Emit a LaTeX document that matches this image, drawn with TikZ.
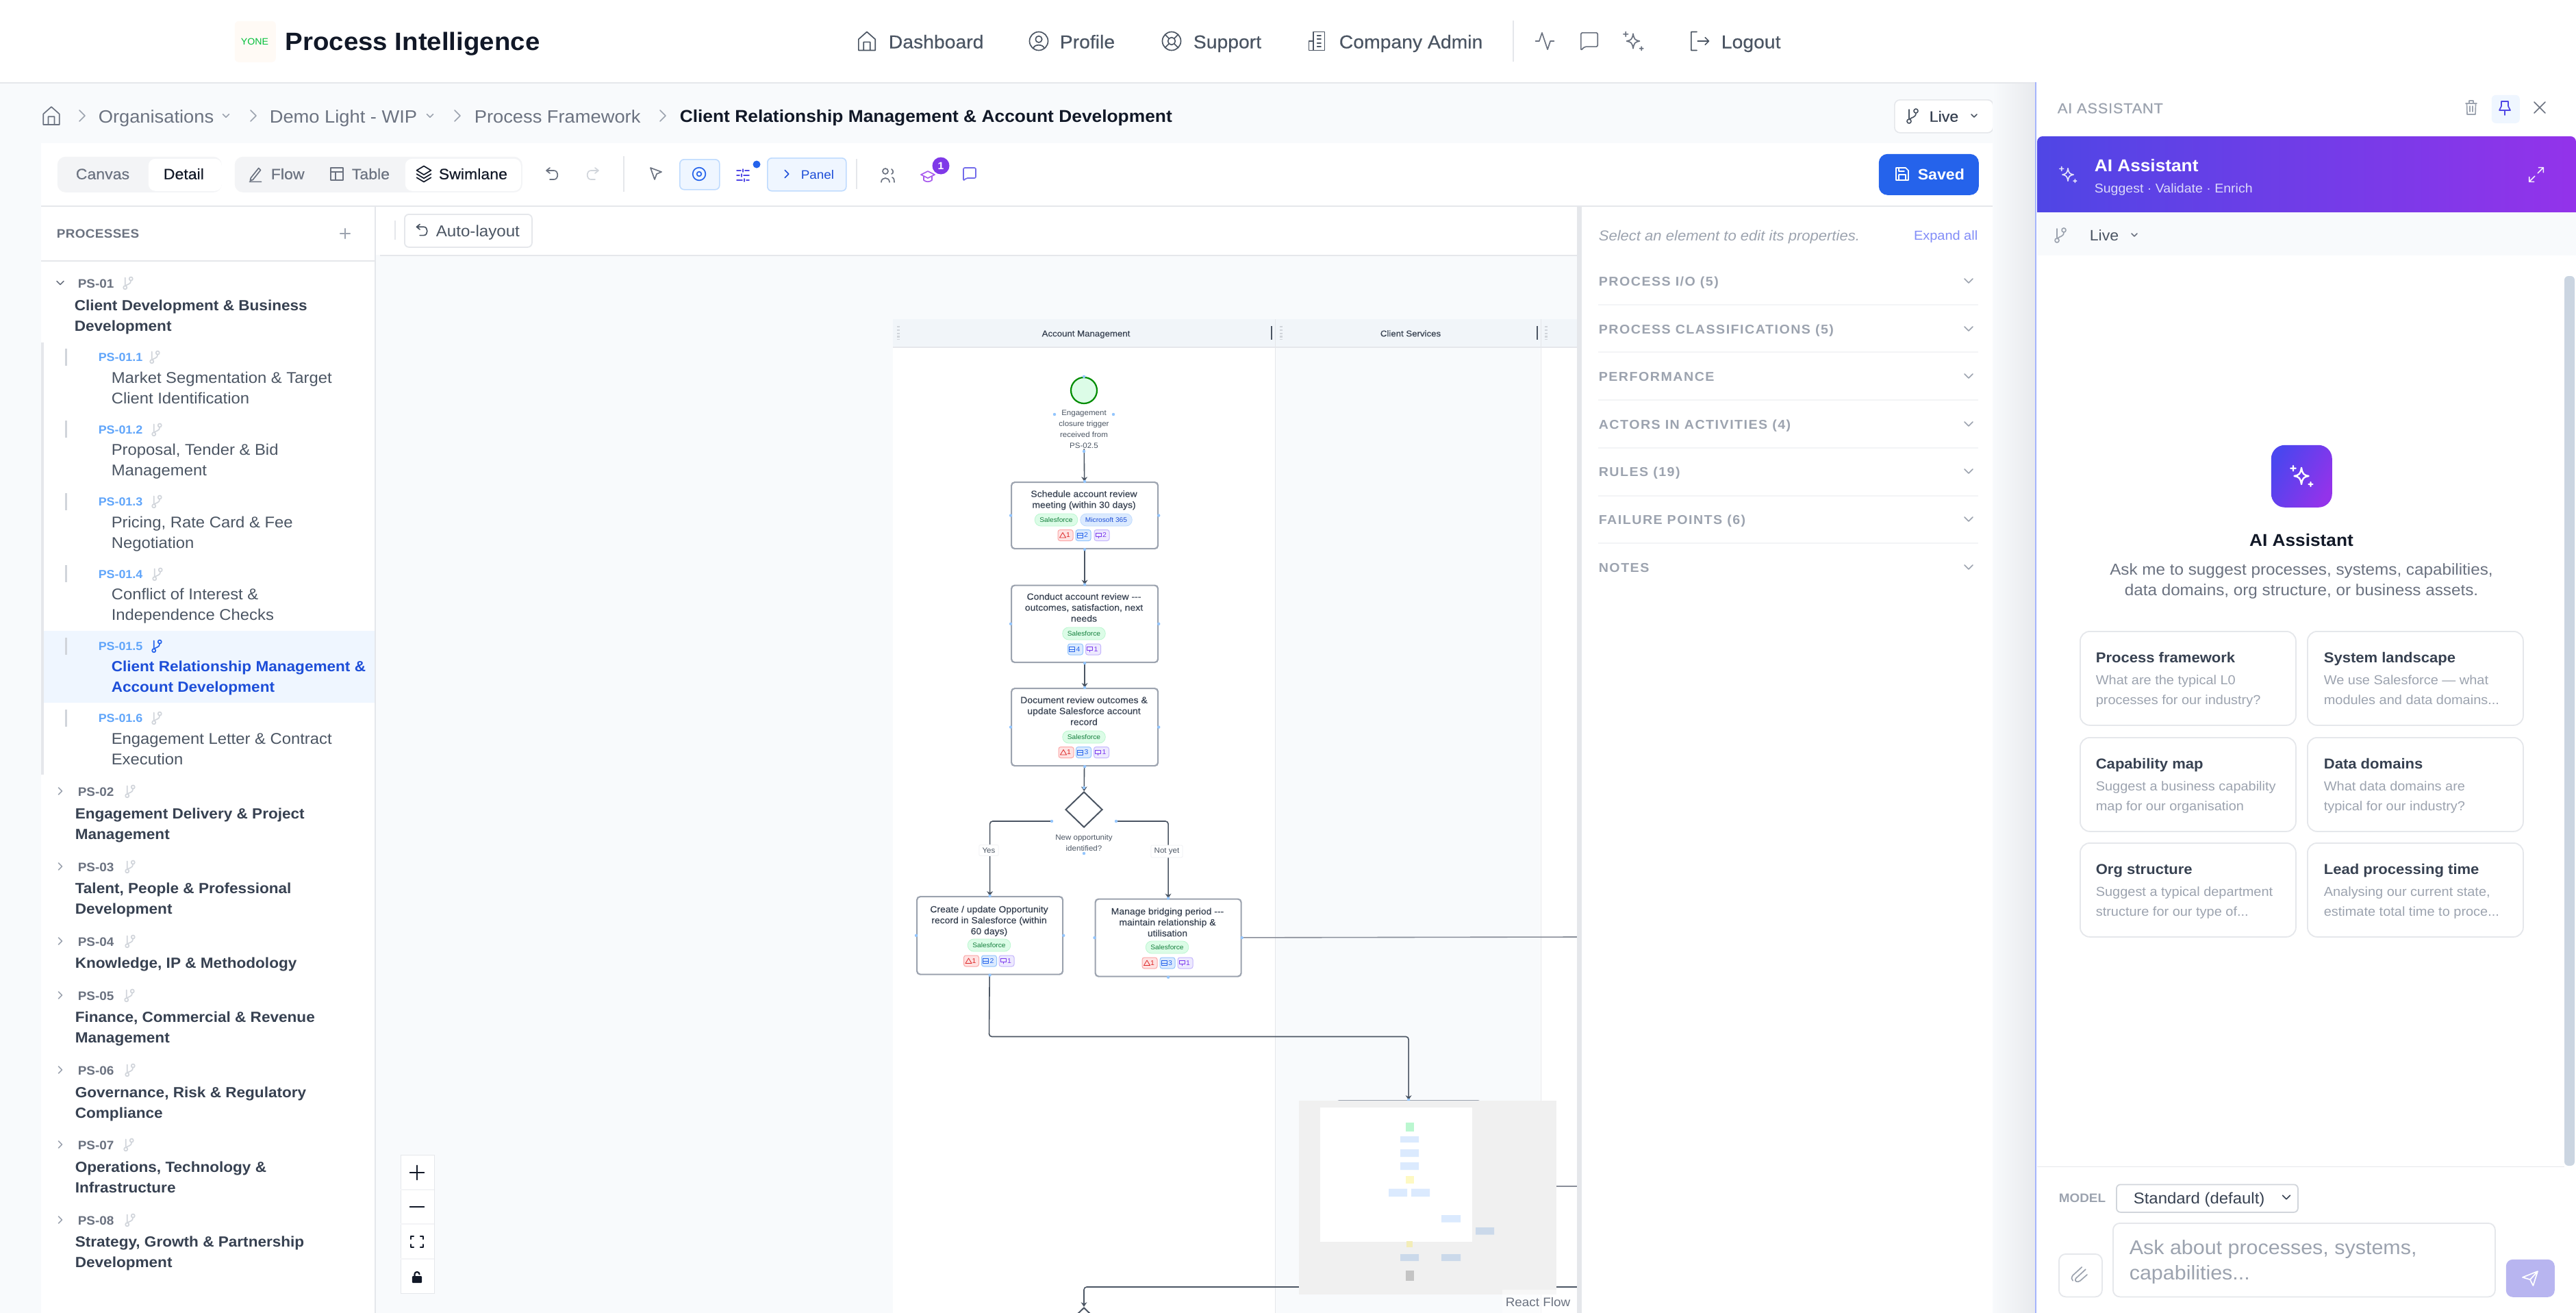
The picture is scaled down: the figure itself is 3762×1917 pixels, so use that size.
\documentclass[tikz,border=0pt]{standalone}
\usepackage{fontspec}
\setmainfont{Liberation Sans}[FakeStretch=1.05]
\newfontfamily\mediumf{Liberation Sans}[FakeStretch=1.05,FakeBold=.3]
\usetikzlibrary{arrows.meta, shapes.geometric}
\definecolor{pagebg}{HTML}{F8FAFC}
\definecolor{rule}{HTML}{E5E7EB}
\definecolor{ink}{HTML}{111827}
\definecolor{inkb}{HTML}{374151}
\definecolor{inkc}{HTML}{4B5563}
\definecolor{inkd}{HTML}{6B7280}
\definecolor{inke}{HTML}{9CA3AF}
\definecolor{inkf}{HTML}{D1D5DB}
\definecolor{tabbg}{HTML}{F3F4F6}
\definecolor{selbg}{HTML}{EFF6FF}
\definecolor{selline}{HTML}{BFDBFE}
\definecolor{selink}{HTML}{1D4ED8}
\definecolor{idblue}{HTML}{60A5FA}
\definecolor{btnblue}{HTML}{2563EB}
\definecolor{indigo}{HTML}{4F46E5}
\definecolor{violet}{HTML}{9333EA}
\definecolor{soft}{HTML}{818CF8}
\definecolor{sendbg}{HTML}{B8B5F0}
\definecolor{lanehd}{HTML}{F1F5F9}
\definecolor{nodeline}{HTML}{9CA3AF}
\definecolor{handlec}{HTML}{93C5FD}
\definecolor{chipg}{HTML}{DCFCE7}
\definecolor{chipgl}{HTML}{BBF7D0}
\definecolor{chipgt}{HTML}{15803D}
\definecolor{chipb}{HTML}{DBEAFE}
\definecolor{chipbl}{HTML}{BFDBFE}
\definecolor{chipbt}{HTML}{1D4ED8}
\definecolor{statr}{HTML}{FEE2E2}
\definecolor{statrl}{HTML}{FCA5A5}
\definecolor{statrt}{HTML}{DC2626}
\definecolor{statb}{HTML}{DBEAFE}
\definecolor{statbl}{HTML}{93C5FD}
\definecolor{statbt}{HTML}{2563EB}
\definecolor{statp}{HTML}{EDE9FE}
\definecolor{statpl}{HTML}{C4B5FD}
\definecolor{statpt}{HTML}{7C3AED}
\definecolor{minibg}{HTML}{F0F0F0}
\definecolor{minib}{HTML}{DBEAFE}
\definecolor{minibd}{HTML}{CBD9EA}
\definecolor{minig}{HTML}{BBF7D0}
\definecolor{miniy}{HTML}{FEF9C3}
\definecolor{miniyd}{HTML}{F3EDB8}
\definecolor{minik}{HTML}{C4C4C4}
\definecolor{thumb}{HTML}{CBD5E1}
\definecolor{panelline}{HTML}{A5B4FC}
\newcommand{\fs}[2]{\pgfmathsetmacro\fsz{#1*.25}\pgfmathsetmacro\fsl{#2*.25}\fontsize{\fsz pt}{\fsl pt}\selectfont}
\newcommand{\capsp}[1]{\addfontfeature{LetterSpace=#1}}
\newcommand{\handles}[1]{\fill[handle] (#1.north) circle (2.2) (#1.south) circle (2.2) (#1.east) circle (2.2) (#1.west) circle (2.2);}
\tikzset{
  % text placed by the centre of its first line
  txt/.style 2 args = {font=\fs{#1}{#2}, inner sep=0pt, anchor=north west, align=left,
                       yshift=#1*.135pt, execute at begin node={\rule{0pt}{.9em}}},
  ml/.style   = {yshift=-#1*.045pt},
  ctr/.style  = {anchor=north, align=center},
  rgt/.style  = {anchor=north east, align=right},
  semib/.style = {execute at begin node=\bfseries},
  med/.style = {execute at begin node=\mediumf},
  wh/.style 2 args = {minimum width=#1*.25pt, minimum height=#2*.25pt, inner sep=0pt, anchor=north west},
  ico/.style = {line width=.42pt, line cap=round, line join=round},
  handle/.style = {fill=handlec},
  % flow chart
  startstop/.style = {circle, draw=green!55!black, line width=.55pt, fill=chipg,
                      minimum size=38*.25pt, inner sep=0pt},
  process/.style = {wh={214}{97}, draw=nodeline, line width=.55pt, fill=white, rounded corners=1.2pt},
  decision/.style = {diamond, draw=inkc, line width=.5pt, fill=white, inner sep=0pt,
                     minimum width=54*.25pt, minimum height=52*.25pt},
  arrow/.style = {draw=inkc, line width=.4pt, rounded corners=1pt, -{Stealth[length=1.7pt,width=2.2pt]}},
  flowline/.style = {draw=inkd!80, line width=.4pt},
  edgelbl/.style = {font=\fs{11}{14}, fill=white, draw=tabbg, line width=.25pt,
                    rounded corners=.5pt, inner xsep=1.2pt, inner ysep=1pt, text=inkc},
  boxtxt/.style = {txt={13.3}{16}, ml=13.3, ctr, med, text=inkb},
  chipgreen/.style = {font=\fs{9.7}{12}, text=chipgt, fill=chipg, draw=chipgl, line width=.2pt,
                      rounded corners=2.2pt, minimum height=18*.25pt, inner sep=0pt, inner xsep=1.8pt},
  chipblue/.style = {chipgreen, text=chipbt, fill=chipb, draw=chipbl},
  stat/.style = {font=\fs{10}{12}, minimum width=22*.25pt, minimum height=16*.25pt, inner sep=0pt,
                 rounded corners=.8pt, line width=.25pt},
  statred/.style = {stat, fill=statr, draw=statrl, text=statrt},
  statblue/.style = {stat, fill=statb, draw=statbl, text=statbt},
  statpur/.style = {stat, fill=statp, draw=statpl, text=statpt},
  % cards of the assistant
  promptcard/.style = {wh={315}{137}, draw=rule, line width=.45pt, fill=white, rounded corners=3.5pt},
  promptttl/.style = {txt={21}{26}, semib, text=inkb},
  promptsub/.style = {txt={19}{29}, ml=19, text=inke},
  treeid/.style = {txt={18}{22}, semib, text=inkd},
  subid/.style = {txt={17}{22}, semib, text=idblue},
  parentttl/.style = {txt={21.5}{30}, semib, text=inkb},
  subttl/.style = {txt={22.7}{30}, ml=22.7, text=inkc},
  section/.style = {txt={18.7}{22}, semib, text=inke, execute at begin node=\capsp{8}},
  navlbl/.style = {txt={27}{30}, med, text=inkc},
  tablbl/.style = {txt={22}{26}, med, text=inkd},
  crumb/.style = {txt={26}{30}, text=inkd},
  % icons, in pixels of the screenshot
  ihome/.pic = {\draw (-9,-2) -- (0,-10) -- (9,-2) -- (9,10) -- (-9,10) -- cycle (-3.5,10) -- (-3.5,1) -- (3.5,1) -- (3.5,10);},
  iuserc/.pic = {\draw (0,0) circle (10) (0,-2) circle (3.5); \draw (-6,8) .. controls (-5,3) and (5,3) .. (6,8);},
  ibuoy/.pic = {\draw (0,0) circle (10) (0,0) circle (4) (-7,-7) -- (-3,-3) (7,-7) -- (3,-3) (-7,7) -- (-3,3) (7,7) -- (3,3);},
  ibuild/.pic = {\draw (-5,10) -- (-5,-10) -- (7,-10) -- (7,10) -- cycle (-5,0) -- (-10,0) -- (-10,10) -- (-5,10) (-1,-6) -- (3,-6) (-1,-2) -- (3,-2) (-1,2) -- (3,2) (-1,6) -- (3,6);},
  ipulse/.pic = {\draw (10,0) -- (6,0) -- (3,9) -- (-3,-9) -- (-6,0) -- (-10,0);},
  imsg/.pic = {\draw[rounded corners=.5pt] (-9,10) -- (-9,-9) -- (9,-9) -- (9,6) -- (-5,6) -- cycle;},
  istar/.pic = {\draw (0,-8) .. controls (1,-2) and (2,-1) .. (7,0) .. controls (2,1) and (1,2) .. (0,8) .. controls (-1,2) and (-2,1) .. (-7,0) .. controls (-2,-1) and (-1,-2) .. (0,-8) -- cycle (-8,-10) -- (-8,-5) (-10.5,-7.5) -- (-5.5,-7.5) (9,6) -- (9,10) (7,8) -- (11,8);},
  ilogout/.pic = {\draw (-3,-10) -- (-9,-10) -- (-9,10) -- (-3,10) (-2,0) -- (10,0) (6,-4) -- (10,0) -- (6,4);},
  ichevr/.pic = {\draw (-2.5,-5) -- (2.5,0) -- (-2.5,5);},
  ichevd/.pic = {\draw (-5,-2.5) -- (0,2.5) -- (5,-2.5);},
  iundo/.pic = {\draw (-3,-9) -- (-8,-5) -- (-3,-1) (-8,-5) -- (3,-5) .. controls (10,-5) and (10,8) .. (3,8) -- (-3,8);},
  icursor/.pic = {\draw (-7,-9) -- (9,-3) -- (2,0) -- (-1,8) -- cycle;},
  ieye/.pic = {\draw (0,0) circle (8.5) (0,0) circle (3);},
  isliders/.pic = {\draw (-9,-7) -- (-3,-7) (3,-7) -- (9,-7) (0,-9) -- (0,-5) (-9,0) -- (-5,0) (1,0) -- (9,0) (-2,-2) -- (-2,2) (-9,7) -- (-1,7) (5,7) -- (9,7) (2,5) -- (2,9);},
  iusers/.pic = {\draw (-2,-6) circle (4); \draw (-8,10) .. controls (-8,2) and (4,2) .. (4,10) (7,-9) .. controls (10,-7) and (10,-3) .. (7,-2) (8,3) .. controls (11,4) and (11,8) .. (11,10);},
  ihat/.pic = {\draw (0,-6) -- (10,-1) -- (0,4) -- (-10,-1) -- cycle (-6,1.5) -- (-6,7) .. controls (-3,10) and (3,10) .. (6,7) -- (6,1.5);},
  ifork/.pic = {\draw (-5,-9) -- (-5,5) (-5,8) circle (3) (5,-7) circle (3); \draw (5,-4) .. controls (5,3) and (-2,2) .. (-4,5);},
  itrash/.pic = {\draw (-8,-6) -- (8,-6) (-3,-6) -- (-3,-10) -- (3,-10) -- (3,-6) (-6.5,-6) -- (-6,10) -- (6,10) -- (6.5,-6) (-2,-2) -- (-2,6) (2,-2) -- (2,6);},
  ipin/.pic = {\draw (0,4) -- (0,11) (-8,4) -- (8,4) -- (5,-2) -- (5,-9) -- (-5,-9) -- (-5,-2) -- cycle;},
  ix/.pic = {\draw (-8,-8) -- (8,8) (8,-8) -- (-8,8);},
  iexpand/.pic = {\draw (-9,9) -- (-2,2) (2,-2) -- (9,-9) (3,-9) -- (9,-9) -- (9,-3) (-9,3) -- (-9,9) -- (-3,9);},
  isave/.pic = {\draw (-9,-9) -- (5,-9) -- (9,-5) -- (9,9) -- (-9,9) -- cycle (-5,9) -- (-5,1) -- (5,1) -- (5,9) (-5,-9) -- (-5,-4) -- (3,-4);},
  itable/.pic = {\draw (-9,-9) rectangle (9,9) (-9,-3) -- (9,-3) (-2,-3) -- (-2,9);},
  ipen/.pic = {\draw (-7,6) -- (5,-9) -- (8,-6) -- (-4,9) -- (-8,10) -- cycle (-9,12) -- (9,12);},
  ilayers/.pic = {\draw (0,-11) -- (10,-5) -- (0,1) -- (-10,-5) -- cycle (-10,0) -- (0,6) -- (10,0) (-10,5) -- (0,11) -- (10,5);},
  iclip/.pic = {\draw (8,-7) -- (-5,5) .. controls (-8,9) and (-2,11) .. (1,8) -- (10,0) (3,-10) -- (-9,1) .. controls (-11,4) and (-11,6) .. (-9,8);},
  isend/.pic = {\draw (-10,-1) -- (10,-9) -- (4,10) -- (0,2) -- cycle (0,2) -- (10,-9);},
  iplus/.pic = {\draw (-9,0) -- (9,0) (0,-9) -- (0,9);},
  iminus/.pic = {\draw (-9,0) -- (9,0);},
  ifit/.pic = {\draw (-9,-4) -- (-9,-8) -- (-5,-8) (5,-8) -- (9,-8) -- (9,-4) (9,4) -- (9,8) -- (5,8) (-5,8) -- (-9,8) -- (-9,4);},
  ilock/.pic = {\fill[rounded corners=.3pt] (-8,-2) rectangle (8,9); \draw (-4,-2) -- (-4,-5) .. controls (-4,-10) and (4,-10) .. (4,-5);},
  itri/.pic = {\draw (0,-4) -- (4.5,3.5) -- (-4.5,3.5) -- cycle;},
  idb/.pic = {\draw (-4,-3.5) rectangle (4,3.5) (-4,0) -- (4,0);},
  iscreen/.pic = {\draw (-4,-3.5) rectangle (4,1.5) (0,1.5) -- (0,4);},
}

\begin{document}
\begin{tikzpicture}[x=.25pt, y=-.25pt]
\useasboundingbox (0,0) rectangle (3762,1917);

% page and panels
\fill[pagebg] (0,0) rectangle (3762,1917);
\fill[white] (0,0) rectangle (3762,120);
\draw[rule, line width=.5pt] (0,121) -- (2973,121);
\fill[white] (60,209) rectangle (2910,300);
\fill[white] (60,300) rectangle (548,1917);
\draw[rule, line width=.5pt] (60,301) -- (2910,301);
\draw[rule, line width=.4pt] (548,300) -- (548,1917);
\draw[rule, line width=.4pt] (60,381) -- (548,381);
\fill[white] (549,302) rectangle (2303,372);
\draw[rule, line width=.5pt] (555,373) -- (2303,373);

% top bar
\node (logo) [wh={60}{60}, fill=orange!4, rounded corners=1.5pt] at (342,30) {};
\node (yone) [txt={13.5}{16}, ctr, text=green!70!cyan!75!black] at (372,60) {YONE};
\node (brand) [txt={36.6}{44}, semib, text=ink] at (416,60) {Process Intelligence};
\pic[ico, color=inkc, scale=1.35] at (1266,60) {ihome};
\node (navdash) [navlbl] at (1297,60) {Dashboard};
\pic[ico, color=inkc, scale=1.35] at (1517,60) {iuserc};
\node (navprof) [navlbl] at (1547,60) {Profile};
\pic[ico, color=inkc, scale=1.35] at (1711,60) {ibuoy};
\node (navsupp) [navlbl] at (1742,60) {Support};
\pic[ico, color=inkc, scale=1.35] at (1925,60) {ibuild};
\node (navadmin) [navlbl] at (1955,60) {Company Admin};
\draw[rule, line width=.3pt] (2210,30) -- (2210,90);
\pic[ico, color=inkd, scale=1.35] at (2256,60) {ipulse};
\pic[ico, color=inkd, scale=1.35] at (2321,60) {imsg};
\pic[ico, color=inkd, scale=1.35] at (2385,60) {istar};
\pic[ico, color=inkc, scale=1.35] at (2482,60) {ilogout};
\node (navout) [navlbl] at (2513,60) {Logout};

% breadcrumb
\pic[ico, color=inkd, scale=1.3] at (75,169) {ihome};
\pic[ico, color=inke, scale=1.6] at (120,169) {ichevr};
\node (crumborg) [crumb] at (143,169) {Organisations};
\pic[ico, color=inke, scale=.9] at (330,169) {ichevd};
\pic[ico, color=inke, scale=1.6] at (370,169) {ichevr};
\node (crumbdemo) [crumb] at (393,169) {Demo Light - WIP};
\pic[ico, color=inke, scale=.9] at (628,169) {ichevd};
\pic[ico, color=inke, scale=1.6] at (668,169) {ichevr};
\node (crumbfw) [crumb] at (692,169) {Process Framework};
\pic[ico, color=inke, scale=1.6] at (968,169) {ichevr};
\node (crumbnow) [crumb, semib, text=ink, font=\fs{25.1}{30}] at (992,169) {Client Relationship Management \& Account Development};
\node (livebtn) [wh={144}{48}, fill=white, draw=rule, line width=.4pt, rounded corners=2pt] at (2766,145) {};
\pic[ico, color=inkc, scale=1] at (2793,169) {ifork};
\node (livetxt) [txt={22}{26}, med, text=inkb] at (2817,169) {Live};
\pic[ico, color=inkc, scale=.8] at (2883,169) {ichevd};

% toolbar
\node (tabview) [wh={240}{52}, fill=tabbg, rounded corners=3pt] at (83,228) {};
\node (tabdetail) [wh={107}{47}, fill=white, rounded corners=2.5pt] at (216,231) {};
\node (canvas) [tablbl] at (110,253) {Canvas};
\node (detail) [tablbl, text=ink] at (238,253) {Detail};
\node (tabmode) [wh={420}{52}, fill=tabbg, rounded corners=3pt] at (342,228) {};
\node (tabswim) [wh={169}{47}, fill=white, rounded corners=2.5pt] at (591,231) {};
\pic[ico, color=inkd, scale=.95] at (373,254) {ipen};
\node (flow) [tablbl] at (395,253) {Flow};
\pic[ico, color=inkd, scale=1] at (492,254) {itable};
\node (table) [tablbl] at (513,253) {Table};
\pic[ico, color=ink, scale=1.05] at (619,254) {ilayers};
\node (swimlane) [tablbl, text=ink] at (640,253) {Swimlane};
\pic[ico, color=inkd, scale=1] at (806,254) {iundo};
\pic[ico, color=inkf, xscale=-1] at (866,254) {iundo};
\draw[rule, line width=.3pt] (911,228) -- (911,280);
\pic[ico, color=inkd, scale=1] at (957,254) {icursor};
\node (eyebtn) [wh={58}{44}, fill=selbg, draw=selline, line width=.4pt, rounded corners=1.6pt] at (992,232) {};
\pic[ico, color=btnblue, scale=1.1] at (1021,254) {ieye};
\pic[ico, color=indigo, scale=1] at (1085,256) {isliders};
\fill[btnblue] (1105,240) circle (5.5);
\node (panelbtn) [wh={115}{48}, fill=selbg, draw=selline, line width=.4pt, rounded corners=1.6pt] at (1120,230) {};
\pic[ico, color=selink, scale=1.1] at (1149,254) {ichevr};
\node (panel) [txt={18}{22}, text=selink] at (1169,254) {Panel};
\draw[rule, line width=.3pt] (1251,232) -- (1251,276);
\pic[ico, color=inkd, scale=1] at (1295,256) {iusers};
\pic[ico, color=violet!80, scale=1] at (1355,256) {ihat};
\node (badge) [circle, fill=violet!70!indigo, minimum size=25*.25pt, inner sep=0pt, text=white, font=\fs{15}{18}\bfseries] at (1374,242) {1};
\pic[ico, color=indigo!80, scale=1] at (1416,254) {imsg};
\node (savedbtn) [wh={146}{60}, fill=btnblue, rounded corners=3.2pt] at (2743,224) {};
\pic[ico, color=white, scale=1] at (2778,254) {isave};
\node (saved) [txt={22}{26}, semib, text=white] at (2800,254) {Saved};

% process tree
\node (proclbl) [txt={18}{22}, semib, text=inkd, execute at begin node=\capsp{2}] at (82,340) {PROCESSES};
\pic[ico, color=inke, scale=.8] at (504,341) {iplus};
\pic[ico, color=inkd, scale=1] at (88,413) {ichevd};
\node (ps01) [treeid] at (113,413) {PS-01};
\pic[ico, color=inkf, scale=.85] at (187,413) {ifork};
\node (ps01t) [parentttl, ml=21.5] at (108,445) {Client Development \& Business\\Development};
\fill[rule] (60,500) rectangle (64,1131);
\fill[selbg] (64,921) rectangle (547,1026);
\fill[inkf] (95,509) rectangle (98,534);
\node (ps011) [subid] at (143,521) {PS-01.1};
\pic[ico, color=inkf, scale=.85] at (226,521) {ifork};
\node (ps011t) [subttl] at (162,550) {Market Segmentation \& Target\\Client Identification};
\fill[inkf] (95,614) rectangle (98,639);
\node (ps012) [subid] at (143,627) {PS-01.2};
\pic[ico, color=inkf, scale=.85] at (229,627) {ifork};
\node (ps012t) [subttl] at (162,655) {Proposal, Tender \& Bid\\Management};
\fill[inkf] (95,720) rectangle (98,745);
\node (ps013) [subid] at (143,732) {PS-01.3};
\pic[ico, color=inkf, scale=.85] at (229,732) {ifork};
\node (ps013t) [subttl] at (162,761) {Pricing, Rate Card \& Fee\\Negotiation};
\fill[inkf] (95,825) rectangle (98,850);
\node (ps014) [subid] at (143,838) {PS-01.4};
\pic[ico, color=inkf, scale=.85] at (230,838) {ifork};
\node (ps014t) [subttl] at (162,866) {Conflict of Interest \&\\Independence Checks};
\fill[inkf] (95,931) rectangle (98,956);
\node (ps015) [subid] at (143,943) {PS-01.5};
\pic[ico, color=btnblue, scale=.85] at (229,943) {ifork};
\node (ps015t) [txt={21.5}{30}, ml=21.5, semib, text=selink] at (162,972) {Client Relationship Management \&\\Account Development};
\fill[inkf] (95,1036) rectangle (98,1061);
\node (ps016) [subid] at (143,1048) {PS-01.6};
\pic[ico, color=inkf, scale=.85] at (229,1048) {ifork};
\node (ps016t) [subttl] at (162,1078) {Engagement Letter \& Contract\\Execution};
\pic[ico, color=inke] at (88,1155) {ichevr};
\node (ps02) [treeid] at (113,1155) {PS-02};
\pic[ico, color=inkf, scale=.85] at (190,1155) {ifork};
\node (ps02t) [parentttl, ml=21.5] at (109,1187) {Engagement Delivery \& Project\\Management};
\pic[ico, color=inke] at (88,1265) {ichevr};
\node (ps03) [treeid] at (113,1265) {PS-03};
\pic[ico, color=inkf, scale=.85] at (190,1265) {ifork};
\node (ps03t) [parentttl, ml=21.5] at (109,1296) {Talent, People \& Professional\\Development};
\pic[ico, color=inke] at (88,1374) {ichevr};
\node (ps04) [treeid] at (113,1374) {PS-04};
\pic[ico, color=inkf, scale=.85] at (190,1374) {ifork};
\node (ps04t) [parentttl] at (109,1405) {Knowledge, IP \& Methodology};
\pic[ico, color=inke] at (88,1453) {ichevr};
\node (ps05) [treeid] at (113,1453) {PS-05};
\pic[ico, color=inkf, scale=.85] at (189,1453) {ifork};
\node (ps05t) [parentttl, ml=21.5] at (109,1484) {Finance, Commercial \& Revenue\\Management};
\pic[ico, color=inke] at (88,1562) {ichevr};
\node (ps06) [treeid] at (113,1562) {PS-06};
\pic[ico, color=inkf, scale=.85] at (190,1562) {ifork};
\node (ps06t) [parentttl, ml=21.5] at (109,1594) {Governance, Risk \& Regulatory\\Compliance};
\pic[ico, color=inke] at (88,1671) {ichevr};
\node (ps07) [treeid] at (113,1671) {PS-07};
\pic[ico, color=inkf, scale=.85] at (188,1671) {ifork};
\node (ps07t) [parentttl, ml=21.5] at (109,1703) {Operations, Technology \&\\Infrastructure};
\pic[ico, color=inke] at (88,1781) {ichevr};
\node (ps08) [treeid] at (113,1781) {PS-08};
\pic[ico, color=inkf, scale=.85] at (190,1781) {ifork};
\node (ps08t) [parentttl, ml=21.5] at (109,1812) {Strategy, Growth \& Partnership\\Development};

% canvas
\node (autobtn) [wh={186}{48}, fill=white, draw=rule, line width=.45pt, rounded corners=1.6pt] at (590,312) {};
\draw[rule, line width=.3pt] (577,322) -- (577,350);
\pic[ico, color=inkc, xscale=.95, yscale=.95] at (616,336) {iundo};
\node (autotxt) [txt={23}{28}, text=inkc] at (636,336) {Auto-layout};

% lanes
\fill[white] (1304,466) rectangle (1862,1917);
\fill[pagebg] (1862,466) rectangle (2249,1917);
\fill[white] (2249,466) rectangle (2303,1917);
\fill[lanehd] (1304,466) rectangle (2303,506);
\draw[rule, line width=.5pt] (1304,507) -- (2303,507);
\draw[rule, line width=.25pt] (1862,466) -- (1862,1917) (2250,466) -- (2250,1917);
\node (lane1) [txt={12.6}{15}, ctr, med, text=inkb] at (1586,486) {Account Management};
\node (lane2) [txt={12.6}{15}, ctr, med, text=inkb] at (2060,486) {Client Services};
\draw[inkc, line width=.4pt] (1857,476) -- (1857,496) (2245,476) -- (2245,496);
\draw[inkf, line width=.9pt, dash pattern=on .6pt off .6pt] (1312,476) -- (1312,496) (1871,476) -- (1871,496) (2258,476) -- (2258,496);

% nodes
\node (start) [startstop] at (1583,570) {};
\node (startlbl) [txt={11}{16}, ml=11, ctr, text=inkc] at (1583,602) {Engagement\\closure trigger\\received from\\PS-02.5};
\node (proc01) [process] at (1476,703) {};
\node (proc01t) [boxtxt] at (1583,720) {Schedule account review\\meeting (within 30 days)};
\node (proc02) [process, wh={214}{112.5}] at (1476,853.5) {};
\node (proc02t) [boxtxt] at (1583,870) {Conduct account review ---\\outcomes, satisfaction, next\\needs};
\node (proc03) [process, wh={214}{113}] at (1476,1004) {};
\node (proc03t) [boxtxt] at (1583,1021) {Document review outcomes \&\\update Salesforce account\\record};
\node (dec01) [decision] at (1583,1182) {};
\node (dec01t) [txt={11}{16}, ml=11, ctr, text=inkc] at (1583,1222) {New opportunity\\identified?};
\coordinate (dec01l) at (1536,1199);
\coordinate (dec01r) at (1630,1199);
\node (proc04) [process, wh={213}{113.5}] at (1338,1308) {};
\node (proc04t) [boxtxt] at (1444.5,1326.5) {Create / update Opportunity\\record in Salesforce (within\\60 days)};
\node (proc05) [process, wh={213}{113}] at (1598.5,1311.5) {};
\node (proc05t) [boxtxt] at (1705,1329.5) {Manage bridging period ---\\maintain relationship \&\\utilisation};
\node (proc06) [process, wh={212}{115}] at (1950,1606) {};
\node (dec02) [decision] at (1583,1935) {};

% chips and counts
\node (chip01a) [chipgreen] at (1542.5,759) {Salesforce};
\node (chip01b) [chipblue] at (1615.5,759) {Microsoft 365};
\node (stat01a) [statred] at (1556,781.5) {\kern2pt 1};
\node (stat01b) [statblue] at (1582,781.5) {\kern2pt 2};
\node (stat01c) [statpur] at (1609,781.5) {\kern2pt 2};
\pic[ico, line width=.2pt, color=statrt] at (1552,781.5) {itri};
\pic[ico, line width=.2pt, color=statbt] at (1577,781.5) {idb};
\pic[ico, line width=.2pt, color=statpt] at (1604,781.5) {iscreen};
\node (chip02) [chipgreen] at (1583,925) {Salesforce};
\node (stat02a) [statblue] at (1570.5,948) {\kern2pt 4};
\node (stat02b) [statpur] at (1596.5,948) {\kern2pt 1};
\pic[ico, line width=.2pt, color=statbt] at (1565.5,948) {idb};
\pic[ico, line width=.2pt, color=statpt] at (1591.5,948) {iscreen};
\node (chip03) [chipgreen] at (1583,1076) {Salesforce};
\node (stat03a) [statred] at (1557,1098.5) {\kern2pt 1};
\node (stat03b) [statblue] at (1582.5,1098.5) {\kern2pt 3};
\node (stat03c) [statpur] at (1608.5,1098.5) {\kern2pt 1};
\pic[ico, line width=.2pt, color=statrt] at (1553,1098.5) {itri};
\pic[ico, line width=.2pt, color=statbt] at (1577.5,1098.5) {idb};
\pic[ico, line width=.2pt, color=statpt] at (1603.5,1098.5) {iscreen};
\node (chip04) [chipgreen] at (1444.5,1380) {Salesforce};
\node (stat04a) [statred] at (1418.5,1403) {\kern2pt 1};
\node (stat04b) [statblue] at (1444.5,1403) {\kern2pt 2};
\node (stat04c) [statpur] at (1470,1403) {\kern2pt 1};
\pic[ico, line width=.2pt, color=statrt] at (1414.5,1403) {itri};
\pic[ico, line width=.2pt, color=statbt] at (1439.5,1403) {idb};
\pic[ico, line width=.2pt, color=statpt] at (1465,1403) {iscreen};
\node (chip05) [chipgreen] at (1704.5,1383) {Salesforce};
\node (stat05a) [statred] at (1679,1406) {\kern2pt 1};
\node (stat05b) [statblue] at (1705,1406) {\kern2pt 3};
\node (stat05c) [statpur] at (1731,1406) {\kern2pt 1};
\pic[ico, line width=.2pt, color=statrt] at (1675,1406) {itri};
\pic[ico, line width=.2pt, color=statbt] at (1700,1406) {idb};
\pic[ico, line width=.2pt, color=statpt] at (1726,1406) {iscreen};

% connectors
\draw [arrow] (startlbl) -- (proc01);
\draw [arrow] (proc01) -- (proc02);
\draw [arrow] (proc02) -- (proc03);
\draw [arrow] (proc03) -- (dec01);
\draw [arrow] (dec01l) -| (proc04);
\draw [arrow] (dec01r) -| (proc05);
\node (yes) [edgelbl] at (1444,1241.5) {Yes};
\node (notyet) [edgelbl] at (1704,1243) {Not yet};
\coordinate (turn01) at (1444.5,1513.5);
\draw [arrow] (proc04) -- (turn01) -| (proc06);
\coordinate (out01) at (2303,1368);
\draw [flowline] (proc05) -- (out01);
\coordinate (in02) at (2160,1732);
\coordinate (out02) at (2303,1732);
\draw [flowline] (in02) -- (out02);
\coordinate (in03) at (2303,1879);
\draw [arrow] (in03) -| (dec02);
\handles{proc01} \handles{proc02} \handles{proc03} \handles{proc04} \handles{proc05}
\fill[handle] (start.north) circle (2.2) (1540,605) circle (2.2) (1626,605) circle (2.2) (1583,659) circle (2.2)
  (1583,1150) circle (2.2) (dec01l) circle (2.2) (dec01r) circle (2.2) (1583,1246) circle (2.2) (proc06.north) circle (2.2);

% minimap and controls
\fill[minibg] (1897,1607) rectangle (2273,1890);
\fill[white] (1928,1617) rectangle (2150,1813);
\fill[minig] (2053,1639) rectangle (2065,1652);
\fill[minib] (2045,1659) rectangle (2072,1668) (2045,1678) rectangle (2072,1689) (2045,1697) rectangle (2072,1708);
\fill[miniy] (2053,1716.5) rectangle (2065,1728);
\fill[minib] (2028,1735.5) rectangle (2055,1747) (2061,1735.5) rectangle (2088,1747) (2105,1774) rectangle (2133,1784.5);
\fill[minibd] (2155,1792) rectangle (2182,1802.5) (2045,1831) rectangle (2072,1841) (2105,1831) rectangle (2133,1841);
\fill[miniyd] (2054,1812) rectangle (2063,1821);
\fill[minik] (2053,1854.5) rectangle (2065,1870);
\node (reactflow) [wh={107}{35}, fill=white, fill opacity=.5, text opacity=1] at (2193,1882) {};
\node (reacttxt) [txt={18}{22}, text=inkd] at (2198,1900) {React Flow};
\node (ctrls) [wh={49}{202}, fill=white, draw=rule, line width=.2pt] at (585,1686) {};
\draw[tabbg, line width=.4pt] (585,1737) -- (634,1737) (585,1787) -- (634,1787) (585,1838) -- (634,1838);
\pic[ico, line width=.55pt, color=ink, scale=1.15] at (609,1712) {iplus};
\pic[ico, line width=.55pt, color=ink, scale=1.15] at (609,1762) {iminus};
\pic[ico, line width=.55pt, color=ink, scale=1] at (609,1813) {ifit};
\pic[ico, line width=.55pt, color=ink, scale=.9] at (609,1865) {ilock};

% properties panel
\fill[white] (2310,302) rectangle (2910,1917);
\fill[rule] (2303,302) rectangle (2310,1917);
\shade[left color=pagebg, right color=rule!90] (2910,122) rectangle (2973,1917);
\node (hint) [txt={21}{26}, text=inke, execute at begin node=\itshape] at (2334,343) {Select an element to edit its properties.};
\node (expandall) [txt={19}{24}, rgt, text=soft] at (2889,343) {Expand all};
\node (sec1) [section] at (2334,410) {PROCESS I/O (5)};
\node (sec2) [section] at (2334,480) {PROCESS CLASSIFICATIONS (5)};
\node (sec3) [section] at (2334,549) {PERFORMANCE};
\node (sec4) [section] at (2334,619) {ACTORS IN ACTIVITIES (4)};
\node (sec5) [section] at (2334,688) {RULES (19)};
\node (sec6) [section] at (2334,758) {FAILURE POINTS (6)};
\node (sec7) [section] at (2334,828) {NOTES};
\pic[ico, color=inke, scale=1.2] at (2875,410) {ichevd};
\pic[ico, color=inke, scale=1.2] at (2875,480) {ichevd};
\pic[ico, color=inke, scale=1.2] at (2875,549) {ichevd};
\pic[ico, color=inke, scale=1.2] at (2875,619) {ichevd};
\pic[ico, color=inke, scale=1.2] at (2875,688) {ichevd};
\pic[ico, color=inke, scale=1.2] at (2875,758) {ichevd};
\pic[ico, color=inke, scale=1.2] at (2875,828) {ichevd};
\draw[tabbg, line width=.4pt] (2334,445) -- (2889,445) (2334,514) -- (2889,514) (2334,584) -- (2889,584) (2334,654) -- (2889,654) (2334,724) -- (2889,724) (2334,793) -- (2889,793);

% assistant
\fill[white] (2973,120) rectangle (3762,1917);
\draw[panelline, line width=.35pt] (2973,120) -- (2973,1917);
\node (aihead) [txt={21}{24}, med, text=inke, execute at begin node=\capsp{3}] at (3004,157) {AI ASSISTANT};
\pic[ico, color=inke, scale=1] at (3609,157) {itrash};
\node (pinbtn) [wh={41}{41}, fill=selbg, rounded corners=1.5pt] at (3638,138) {};
\pic[ico, color=indigo, scale=1] at (3658,157) {ipin};
\pic[ico, color=inkd, scale=1] at (3709,157) {ix};
\shade[left color=indigo, right color=violet, rounded corners=2pt] (2975,310) -- (2975,199) -- (3762,199) [sharp corners] -- (3762,310) -- cycle;
\pic[ico, color=white!85!indigo, scale=1.15] at (3020,255) {istar};
\node (aititle) [txt={25}{30}, semib, text=white] at (3058,241) {AI Assistant};
\node (aisub) [txt={18.6}{24}, text=white!80!indigo] at (3058,274) {Suggest · Validate · Enrich};
\pic[ico, color=white!90!violet, scale=1.15] at (3704,255) {iexpand};
\fill[pagebg] (2975,310) rectangle (3762,373);
\pic[ico, color=inke, scale=1] at (3009,343) {ifork};
\node (aelive) [txt={22}{26}, text=inkc] at (3051,343) {Live};
\pic[ico, color=inkd, scale=.8] at (3117,343) {ichevd};
\fill[thumb, rounded corners=1.5pt] (3745,403) rectangle (3760,1702);
\node (aiicon) [wh={89}{91}, left color=indigo!70!blue!90, right color=violet, shading angle=60, rounded corners=5pt] at (3316,649) {};
\pic[ico, line width=.6pt, color=white, scale=1.5] at (3361,695) {istar};
\node (aibig) [txt={25}{30}, ctr, semib, text=ink] at (3361,788) {AI Assistant};
\node (aibigsub) [txt={23.1}{30}, ml=23.1, ctr, text=inkd] at (3361,830) {Ask me to suggest processes, systems, capabilities,\\data domains, org structure, or business assets.};
\node (card1) [promptcard] at (3037,921) {};
\node (card1t) [promptttl] at (3060,959) {Process framework};
\node (card1s) [promptsub] at (3060,992) {What are the typical L0\\processes for our industry?};
\node (card2) [promptcard] at (3369,921) {};
\node (card2t) [promptttl] at (3393,959) {System landscape};
\node (card2s) [promptsub] at (3393,992) {We use Salesforce --- what\\modules and data domains...};
\node (card3) [promptcard] at (3037,1076) {};
\node (card3t) [promptttl] at (3060,1114) {Capability map};
\node (card3s) [promptsub] at (3060,1147) {Suggest a business capability\\map for our organisation};
\node (card4) [promptcard] at (3369,1076) {};
\node (card4t) [promptttl] at (3393,1114) {Data domains};
\node (card4s) [promptsub] at (3393,1147) {What data domains are\\typical for our industry?};
\node (card5) [promptcard] at (3037,1230) {};
\node (card5t) [promptttl] at (3060,1268) {Org structure};
\node (card5s) [promptsub] at (3060,1301) {Suggest a typical department\\structure for our type of...};
\node (card6) [promptcard] at (3369,1230) {};
\node (card6t) [promptttl] at (3393,1268) {Lead processing time};
\node (card6s) [promptsub] at (3393,1301) {Analysing our current state,\\estimate total time to proce...};
\draw[rule, line width=.35pt] (2975,1703.5) -- (3745,1703.5);
\node (modellbl) [txt={18}{22}, semib, text=inke] at (3006,1748) {MODEL};
\node (modelbox) [wh={265}{40.5}, fill=white, draw=inkf, line width=.45pt, rounded corners=1.5pt] at (3090,1728.5) {};
\node (modeltxt) [txt={22.8}{28}, text=inkb] at (3115,1748) {Standard (default)};
\pic[ico, color=inkb, scale=1.1] at (3339,1748) {ichevd};
\node (inputbox) [wh={558}{107.5}, fill=white, draw=rule, line width=.45pt, rounded corners=2.5pt] at (3085,1785) {};
\node (inputtxt) [txt={29}{37.5}, ml=29, text=inke] at (3109,1820) {Ask about processes, systems,\\capabilities...};
\node (clipbtn) [wh={63}{62.5}, fill=white, draw=rule, line width=.45pt, rounded corners=2.5pt] at (3006,1830) {};
\pic[ico, color=inke, scale=1.1] at (3037,1861) {iclip};
\node (sendbtn) [wh={71}{55}, fill=sendbg, rounded corners=2.5pt] at (3659,1838) {};
\pic[ico, color=white, scale=1.1] at (3695,1866) {isend};
\end{tikzpicture}
\end{document}
